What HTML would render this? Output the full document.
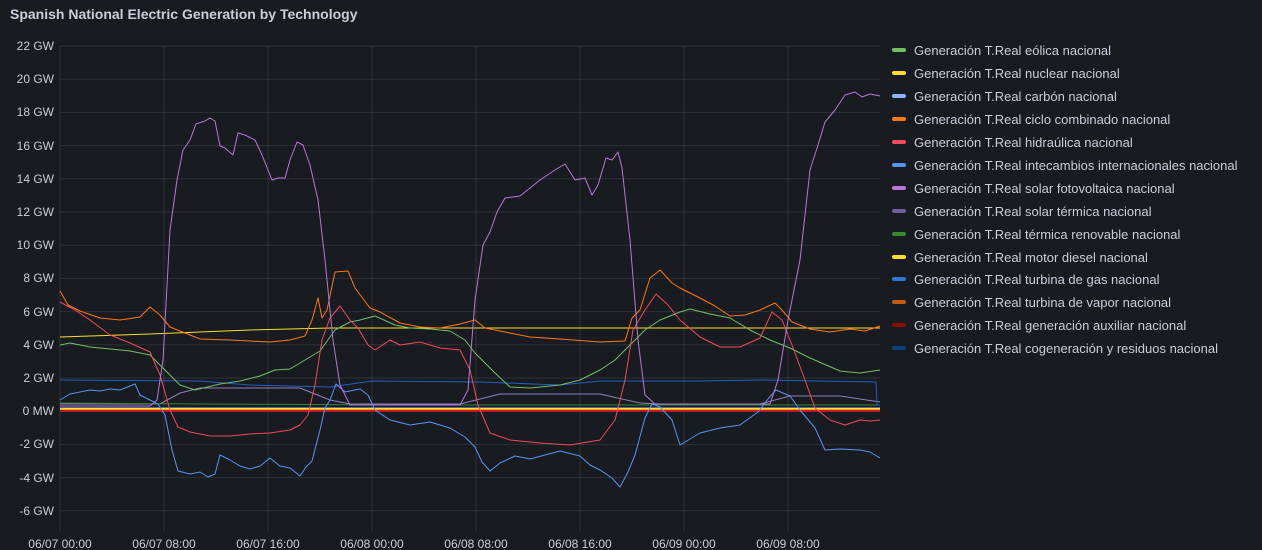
<!DOCTYPE html>
<html><head><meta charset="utf-8"><style>
body{margin:0;background:#111217;}
.p{position:absolute;left:0;top:0;width:1262px;height:550px;background:#181b1f;overflow:hidden;font-family:"Liberation Sans",sans-serif;}
svg text{font-family:"Liberation Sans",sans-serif;fill:#ccccdc;font-size:12px}
svg .lg text{font-size:13px}
</style></head><body><div class="p">
<svg width="1262" height="550" xmlns="http://www.w3.org/2000/svg">
<text x="10" y="19" style="font-size:14px;font-weight:bold;fill:#ccccdc">Spanish National Electric Generation by Technology</text>
<g stroke="rgba(204,204,220,0.12)" stroke-width="1">
<line x1="60" x2="880" y1="46" y2="46"/><line x1="60" x2="880" y1="79.2" y2="79.2"/><line x1="60" x2="880" y1="112.4" y2="112.4"/><line x1="60" x2="880" y1="145.6" y2="145.6"/><line x1="60" x2="880" y1="178.8" y2="178.8"/><line x1="60" x2="880" y1="212" y2="212"/><line x1="60" x2="880" y1="245.2" y2="245.2"/><line x1="60" x2="880" y1="278.4" y2="278.4"/><line x1="60" x2="880" y1="311.6" y2="311.6"/><line x1="60" x2="880" y1="344.8" y2="344.8"/><line x1="60" x2="880" y1="378" y2="378"/><line x1="60" x2="880" y1="411.2" y2="411.2"/><line x1="60" x2="880" y1="444.4" y2="444.4"/><line x1="60" x2="880" y1="477.6" y2="477.6"/><line x1="60" x2="880" y1="510.8" y2="510.8"/>
<line x1="60" x2="60" y1="46" y2="532"/><line x1="164" x2="164" y1="46" y2="532"/><line x1="268" x2="268" y1="46" y2="532"/><line x1="372" x2="372" y1="46" y2="532"/><line x1="476" x2="476" y1="46" y2="532"/><line x1="580" x2="580" y1="46" y2="532"/><line x1="684" x2="684" y1="46" y2="532"/><line x1="788" x2="788" y1="46" y2="532"/>
</g>
<g text-anchor="end">
<text x="54" y="50">22 GW</text><text x="54" y="83">20 GW</text><text x="54" y="116">18 GW</text><text x="54" y="150">16 GW</text><text x="54" y="183">14 GW</text><text x="54" y="216">12 GW</text><text x="54" y="249">10 GW</text><text x="54" y="282">8 GW</text><text x="54" y="316">6 GW</text><text x="54" y="349">4 GW</text><text x="54" y="382">2 GW</text><text x="54" y="415">0 MW</text><text x="54" y="448">-2 GW</text><text x="54" y="482">-4 GW</text><text x="54" y="515">-6 GW</text>
</g>
<g text-anchor="middle">
<text x="60" y="548">06/07 00:00</text><text x="164" y="548">06/07 08:00</text><text x="268" y="548">06/07 16:00</text><text x="372" y="548">06/08 00:00</text><text x="476" y="548">06/08 08:00</text><text x="580" y="548">06/08 16:00</text><text x="684" y="548">06/09 00:00</text><text x="788" y="548">06/09 08:00</text>
</g>
<g fill="none" stroke-width="1" stroke-linejoin="round">
<polyline stroke="#8f7fc0" points="60,404 160,404 180,393 200,388 300,388 330,400 350,404 460,404 500,394 600,394 640,403 660,404 760,404 790,396 840,396 880,402"/>
<polyline stroke="#37872d" points="60,403 200,404 400,405 600,405 880,405"/>
<polyline stroke="#1f60c4" points="60,380 200,381 250,385 330,387 372,381 480,382 560,385 600,381 700,381 760,380 876,382 877,405 880,405"/>
<polyline stroke="#8ab8ff" points="60,408 880,408"/>
<polyline stroke="#fade2a" stroke-width="2" points="60,409 880,409"/>
<polyline stroke="#e0752d" points="60,410 880,410"/>
<polyline stroke="#c4162a" stroke-width="2" points="60,411 880,411"/>
<polyline stroke="#ffffff" points="350,328 880,328"/>
<polyline stroke="#fade2a" points="60,337 150,334 250,330 330,328 880,328"/>
<polyline stroke="#73bf69" points="60,345 70,343 90,347 130,351 150,355 165,370 180,385 195,390 220,384 240,381 260,376 275,370 290,369 300,363 320,351 335,330 350,322 360,320 375,316 395,325 410,328 430,329 450,331 465,340 475,353 495,373 510,387 530,388 560,385 580,380 600,370 615,360 630,345 645,330 660,320 680,312 690,309 710,314 730,318 750,330 770,340 790,348 810,358 840,371 860,373 880,370"/>
<polyline stroke="#ff780a" points="60,291 68,305 80,311 100,318 120,320 140,317 150,307 160,315 170,327 200,339 230,340 270,342 290,340 305,336 312,320 318,298 322,318 327,310 335,272 348,271 355,288 370,308 380,312 400,323 420,327 440,328 460,324 475,320 485,328 500,331 530,337 560,339 600,342 625,341 632,318 640,310 650,278 660,270 672,283 680,288 700,298 715,306 730,316 745,315 760,310 775,303 782,310 792,322 810,329 830,332 850,329 865,331 880,326"/>
<polyline stroke="#f2495c" points="60,302 75,310 90,320 110,335 130,343 150,352 160,375 170,410 178,427 190,432 210,436 230,436 250,434 270,433 290,430 300,425 308,415 315,385 322,340 330,318 340,306 350,320 358,328 368,345 375,350 390,340 400,345 420,342 440,348 460,350 470,370 478,405 490,433 510,440 540,443 570,445 600,440 615,420 625,380 633,330 645,310 656,294 668,305 680,320 700,337 720,347 740,347 760,338 772,312 782,320 792,345 805,380 815,408 830,420 845,425 860,420 870,421 880,420"/>
<polyline stroke="#5794f2" points="60,400 70,394 80,392 90,390 100,391 110,389 120,390 130,386 135,384 140,395 150,400 158,404 165,415 172,450 178,471 190,474 200,472 208,477 215,474 220,455 230,460 240,466 250,469 260,466 270,458 280,466 290,468 300,476 306,467 312,461 320,430 325,408 330,400 336,384 345,392 360,389 368,395 375,410 390,420 410,425 430,422 450,428 465,437 475,447 482,462 490,471 500,463 515,456 530,459 560,451 580,456 590,465 600,470 612,478 620,487 628,472 635,455 645,418 652,404 660,407 672,420 680,445 700,433 720,428 740,425 758,412 768,399 776,390 790,396 800,410 815,428 825,450 840,449 860,450 870,452 880,458"/>
<polyline stroke="#b877d9" points="60,406 150,406 157,400 163,360 170,230 177,180 183,150 190,140 196,124 205,121 210,118 215,121 220,146 225,148 233,155 238,133 245,135 255,140 262,155 268,170 272,180 278,178 285,178 290,160 297,142 303,145 310,165 318,200 325,260 333,340 340,385 350,405 460,405 468,390 475,300 483,245 490,232 497,212 505,198 520,196 540,180 555,170 565,164 575,180 585,178 592,195 598,185 606,158 612,160 618,152 622,168 630,240 638,340 645,395 655,404 770,404 778,380 788,320 800,260 810,170 818,145 825,122 835,110 845,95 855,92 862,97 870,94 880,96"/>
</g>
<g class="lg">
<rect x="892" y="48" width="14" height="4" rx="2" fill="#73bf69"/><text x="914" y="55">Generación T.Real eólica nacional</text>
<rect x="892" y="71" width="14" height="4" rx="2" fill="#fade2a"/><text x="914" y="78">Generación T.Real nuclear nacional</text>
<rect x="892" y="94" width="14" height="4" rx="2" fill="#8ab8ff"/><text x="914" y="101">Generación T.Real carbón nacional</text>
<rect x="892" y="117" width="14" height="4" rx="2" fill="#ff780a"/><text x="914" y="124">Generación T.Real ciclo combinado nacional</text>
<rect x="892" y="140" width="14" height="4" rx="2" fill="#f2495c"/><text x="914" y="147">Generación T.Real hidraúlica nacional</text>
<rect x="892" y="163" width="14" height="4" rx="2" fill="#5794f2"/><text x="914" y="170">Generación T.Real intecambios internacionales nacional</text>
<rect x="892" y="186" width="14" height="4" rx="2" fill="#b877d9"/><text x="914" y="193">Generación T.Real solar fotovoltaica nacional</text>
<rect x="892" y="209" width="14" height="4" rx="2" fill="#705da0"/><text x="914" y="216">Generación T.Real solar térmica nacional</text>
<rect x="892" y="232" width="14" height="4" rx="2" fill="#37872d"/><text x="914" y="239">Generación T.Real térmica renovable nacional</text>
<rect x="892" y="255" width="14" height="4" rx="2" fill="#fade2a"/><text x="914" y="262">Generación T.Real motor diesel nacional</text>
<rect x="892" y="277" width="14" height="4" rx="2" fill="#3274d9"/><text x="914" y="284">Generación T.Real turbina de gas nacional</text>
<rect x="892" y="300" width="14" height="4" rx="2" fill="#c15c17"/><text x="914" y="307">Generación T.Real turbina de vapor nacional</text>
<rect x="892" y="323" width="14" height="4" rx="2" fill="#890f02"/><text x="914" y="330">Generación T.Real generación auxiliar nacional</text>
<rect x="892" y="346" width="14" height="4" rx="2" fill="#0a437c"/><text x="914" y="353">Generación T.Real cogeneración y residuos nacional</text>
</g>
</svg></div></body></html>
